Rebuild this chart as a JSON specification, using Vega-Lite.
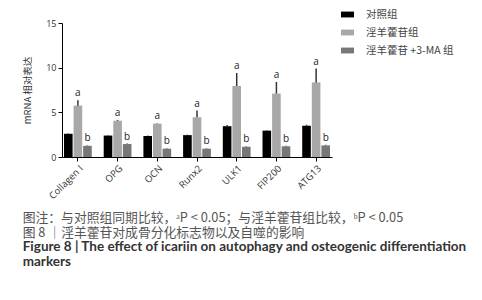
{
  "$schema": "https://vega.github.io/schema/vega-lite/v6.json",
  "width": 270,
  "height": 134,
  "autosize": "none",
  "padding": {"left": 62, "top": 23, "right": 150, "bottom": 143},
  "background": "white",
  "config": {"view": {"stroke": null}},
  "data": {"values": [
    {"gene": "Collagen I", "group": "对照组", "value": 2.6, "err": 0.05, "sig": ""},
    {"gene": "Collagen I", "group": "淫羊藿苷组", "value": 5.75, "err": 0.6, "sig": "a"},
    {"gene": "Collagen I", "group": "淫羊藿苷 +3-MA 组", "value": 1.25, "err": 0.05, "sig": "b"},
    {"gene": "OPG", "group": "对照组", "value": 2.4, "err": 0.05, "sig": ""},
    {"gene": "OPG", "group": "淫羊藿苷组", "value": 4.05, "err": 0.1, "sig": "a"},
    {"gene": "OPG", "group": "淫羊藿苷 +3-MA 组", "value": 1.45, "err": 0.05, "sig": "b"},
    {"gene": "OCN", "group": "对照组", "value": 2.35, "err": 0.05, "sig": ""},
    {"gene": "OCN", "group": "淫羊藿苷组", "value": 3.73, "err": 0.05, "sig": "a"},
    {"gene": "OCN", "group": "淫羊藿苷 +3-MA 组", "value": 0.93, "err": 0.05, "sig": "b"},
    {"gene": "Runx2", "group": "对照组", "value": 2.45, "err": 0.05, "sig": ""},
    {"gene": "Runx2", "group": "淫羊藿苷组", "value": 4.45, "err": 0.75, "sig": "a"},
    {"gene": "Runx2", "group": "淫羊藿苷 +3-MA 组", "value": 0.93, "err": 0.05, "sig": "b"},
    {"gene": "ULK1", "group": "对照组", "value": 3.45, "err": 0.12, "sig": ""},
    {"gene": "ULK1", "group": "淫羊藿苷组", "value": 7.95, "err": 1.45, "sig": "a"},
    {"gene": "ULK1", "group": "淫羊藿苷 +3-MA 组", "value": 1.15, "err": 0.05, "sig": "b"},
    {"gene": "FIP200", "group": "对照组", "value": 2.95, "err": 0.05, "sig": ""},
    {"gene": "FIP200", "group": "淫羊藿苷组", "value": 7.1, "err": 1.3, "sig": "a"},
    {"gene": "FIP200", "group": "淫羊藿苷 +3-MA 组", "value": 1.2, "err": 0.05, "sig": "b"},
    {"gene": "ATG13", "group": "对照组", "value": 3.5, "err": 0.12, "sig": ""},
    {"gene": "ATG13", "group": "淫羊藿苷组", "value": 8.35, "err": 1.55, "sig": "a"},
    {"gene": "ATG13", "group": "淫羊藿苷 +3-MA 组", "value": 1.3, "err": 0.07, "sig": "b"}
  ]},
  "title": {
    "text": ["图注：与对照组同期比较，ᵃP < 0.05；与淫羊藿苷组比较，ᵇP < 0.05", "图 8 ｜淫羊藿苷对成骨分化标志物以及自噬的影响"],
    "subtitle": ["Figure 8 | The effect of icariin on autophagy and osteogenic differentiation", "markers"],
    "orient": "bottom",
    "anchor": "start",
    "frame": "bounds",
    "offset": 12,
    "font": "Noto Sans CJK SC",
    "fontSize": 12.8,
    "fontWeight": "normal",
    "color": "#555555",
    "lineHeight": 15,
    "subtitleFont": "Lato",
    "subtitleFontSize": 13.5,
    "subtitleFontWeight": "bold",
    "subtitleColor": "#333333",
    "subtitleLineHeight": 15,
    "subtitlePadding": 0
  },
  "encoding": {
    "x": {
      "field": "gene", "type": "nominal", "sort": null,
      "scale": {"paddingInner": 0.3, "paddingOuter": 0.05},
      "axis": {"title": null, "labelAngle": -45, "labelFont": "Open Sans", "labelFontSize": 9.5, "labelColor": "#333333", "domainColor": "#000000", "tickColor": "#000000", "tickSize": 4, "labelPadding": 2}
    },
    "xOffset": {"field": "group", "type": "nominal", "sort": ["对照组", "淫羊藿苷组", "淫羊藿苷 +3-MA 组"], "scale": {"paddingInner": 0.1}}
  },
  "layer": [
    {
      "mark": {"type": "bar"},
      "encoding": {
        "y": {"field": "value", "type": "quantitative", "scale": {"domain": [0, 15], "nice": false},
          "axis": {"title": "mRNA 相对表达", "values": [0, 5, 10, 15], "grid": false, "labelFont": "Open Sans", "labelFontSize": 9, "labelColor": "#333333", "domainColor": "#000000", "tickColor": "#000000", "tickSize": 4, "labelPadding": 2, "titleFont": "Noto Sans CJK SC", "titleFontSize": 9.5, "titleFontWeight": "normal", "titleColor": "#333333", "titlePadding": 13}},
        "color": {"field": "group", "type": "nominal", "sort": ["对照组", "淫羊藿苷组", "淫羊藿苷 +3-MA 组"],
          "scale": {"range": ["#000000", "#a8a8a8", "#777777"]},
          "legend": {"title": null, "orient": "none", "legendX": 279, "legendY": -15, "symbolType": "M-1,-0.45H1V0.45H-1Z", "symbolSize": 169, "symbolStrokeWidth": 0, "labelFont": "Noto Sans CJK SC", "labelFontSize": 10.5, "labelColor": "#444444", "rowPadding": 6, "labelOffset": 12}}
      }
    },
    {
      "mark": {"type": "rule", "color": "#333333", "strokeWidth": 1.5},
      "encoding": {
        "y": {"field": "value", "type": "quantitative"},
        "y2": {"field": "top"}
      },
      "transform": [{"calculate": "datum.value + datum.err", "as": "top"}]
    },
    {
      "mark": {"type": "text", "dy": -7, "font": "Open Sans", "fontSize": 10, "color": "#222222"},
      "transform": [{"calculate": "datum.value + datum.err", "as": "top"}],
      "encoding": {
        "y": {"field": "top", "type": "quantitative"},
        "text": {"field": "sig"}
      }
    }
  ]
}
